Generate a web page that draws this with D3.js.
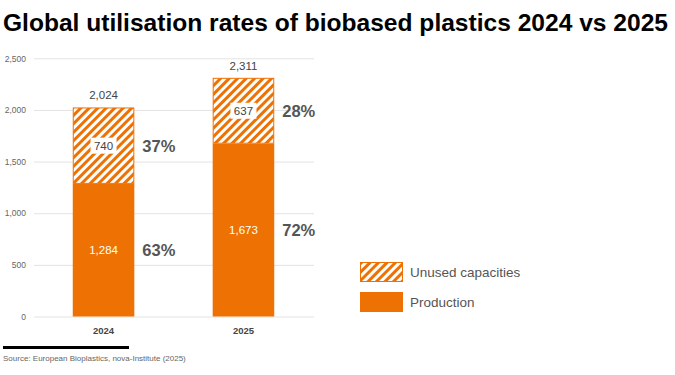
<!DOCTYPE html>
<html>
<head>
<meta charset="utf-8">
<script src="https://cdn.jsdelivr.net/npm/d3@7"></script>
<style>
  body { margin: 0; background: #fff; }
  svg { font-family: "Liberation Sans", Arial, sans-serif; }
</style>
</head>
<body>
<div id="chart"></div>
<script>
const years = ["2024", "2025"];
const production = [1284, 1673];
const unused = [740, 637];
const totals = [2024, 2311];
const prodShare = ["63%", "72%"];
const unusedShare = ["37%", "28%"];
const yTicks = [0, 500, 1000, 1500, 2000, 2500];
const legendItems = ["Unused capacities", "Production"];

const orange = "#ee7203";

const width = 675, height = 375;
const svg = d3.select("#chart").append("svg")
    .attr("width", width)
    .attr("height", height);

// hatch pattern
const defs = svg.append("defs");
const pat = defs.append("pattern")
    .attr("id", "hatch")
    .attr("patternUnits", "userSpaceOnUse")
    .attr("width", 6)
    .attr("height", 6)
    .attr("patternTransform", "rotate(45)");
pat.append("rect").attr("width", 6).attr("height", 6).attr("fill", "#fff");
pat.append("rect").attr("width", 3).attr("height", 6).attr("fill", orange);

svg.append("text")
    .attr("x", 3)
    .attr("y", 31)
    .attr("font-size", 24)
    .attr("font-weight", "bold")
    .attr("textLength", 665)
    .attr("lengthAdjust", "spacingAndGlyphs")
    .attr("fill", "#000")
    .text("Global utilisation rates of biobased plastics 2024 vs 2025");

const x = d3.scaleBand()
    .domain(years)
    .range([34, 313])
    .paddingInner(0.56)
    .paddingOuter(0.277);

const y = d3.scaleLinear()
    .domain([0, 2500])
    .range([316.5, 58.3]);

// grid + tick labels
const gy = svg.append("g")
    .attr("transform", "translate(34,0)")
    .call(d3.axisLeft(y).tickValues(yTicks).tickSize(-280).tickPadding(8).tickFormat(d3.format(",")));
gy.select(".domain").remove();
gy.selectAll(".tick line").attr("stroke", "#e3e3e3");
gy.selectAll(".tick text").attr("fill", "#666").attr("font-size", 8.5).attr("font-family", "Liberation Sans, Arial, sans-serif");

const bars = svg.append("g");
years.forEach((yr, i) => {
    const bx = x(yr), bw = x.bandwidth();
    bars.append("rect")
        .attr("x", bx).attr("width", bw)
        .attr("y", y(production[i])).attr("height", y(0) - y(production[i]))
        .attr("fill", orange);
    bars.append("rect")
        .attr("x", bx + 0.5).attr("width", bw - 1)
        .attr("y", y(totals[i]) + 0.5).attr("height", y(production[i]) - y(totals[i]) - 1)
        .attr("fill", "url(#hatch)")
        .attr("stroke", orange).attr("stroke-width", 1);

    const cx = bx + bw / 2;
    // total label
    svg.append("text")
        .attr("x", cx).attr("y", y(totals[i]) - 8)
        .attr("text-anchor", "middle").attr("font-size", 11.5).attr("fill", "#444")
        .text(d3.format(",")(totals[i]));

    // unused value label with white box
    const uy = (y(totals[i]) + y(production[i])) / 2;
    svg.append("rect")
        .attr("x", cx - 13).attr("y", uy - 8)
        .attr("width", 26).attr("height", 16)
        .attr("fill", "#fff");
    svg.append("text")
        .attr("x", cx).attr("y", uy + 4)
        .attr("text-anchor", "middle").attr("font-size", 11.5).attr("fill", "#444")
        .text(d3.format(",")(unused[i]));

    // production value
    const py = (y(production[i]) + y(0)) / 2;
    svg.append("text")
        .attr("x", cx).attr("y", py + 4)
        .attr("text-anchor", "middle").attr("font-size", 11.5).attr("fill", "#fff")
        .text(d3.format(",")(production[i]));

    // shares
    svg.append("text")
        .attr("x", bx + bw + 8).attr("y", uy + 6)
        .attr("font-size", 16.5).attr("font-weight", "bold").attr("fill", "#555")
        .text(unusedShare[i]);
    svg.append("text")
        .attr("x", bx + bw + 8).attr("y", py + 6)
        .attr("font-size", 16.5).attr("font-weight", "bold").attr("fill", "#555")
        .text(prodShare[i]);

    // x labels
    svg.append("text")
        .attr("x", cx).attr("y", 334)
        .attr("text-anchor", "middle").attr("font-size", 9.5).attr("font-weight", "bold").attr("fill", "#444")
        .text(yr);
});

// legend
const legend = svg.append("g").attr("transform", "translate(360,262)");
legendItems.forEach((name, i) => {
    const g = legend.append("g").attr("transform", `translate(0,${i * 30})`);
    g.append("rect")
        .attr("x", 0.5).attr("y", 0.5).attr("width", 42).attr("height", 19)
        .attr("fill", i === 0 ? "url(#hatch)" : orange)
        .attr("stroke", orange);
    g.append("text")
        .attr("x", 50).attr("y", 15)
        .attr("font-size", 13.5).attr("fill", "#555")
        .text(name);
});

// footer
svg.append("rect")
    .attr("x", 3).attr("y", 346).attr("width", 126).attr("height", 3)
    .attr("fill", "#000");
svg.append("text")
    .attr("x", 3).attr("y", 361)
    .attr("font-size", 8).attr("fill", "#666")
    .text("Source: European Bioplastics, nova-Institute (2025)");
</script>
</body>
</html>
